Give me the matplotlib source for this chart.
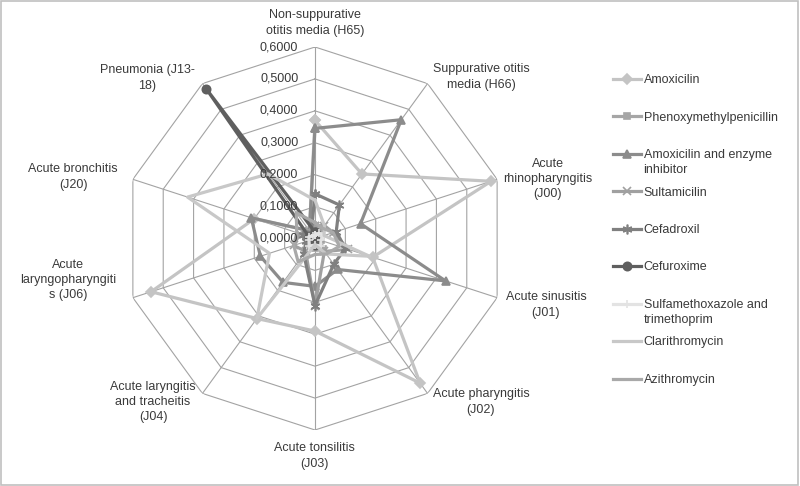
import numpy as np
import matplotlib
matplotlib.use("Agg")
import matplotlib.pyplot as plt

plt.rcParams['font.family'] = ['Liberation Sans', 'DejaVu Sans']

# categories, clockwise from the top
categories = ["Non-suppurative\notitis media (H65)", "Suppurative otitis\nmedia (H66)",
              "Acute\nrhinopharyngitis\n(J00)", "Acute sinusitis\n(J01)",
              "Acute pharyngitis\n(J02)", "Acute tonsilitis\n(J03)",
              "Acute laryngitis\nand tracheitis\n(J04)", "Acute\nlaryngopharyngiti\ns (J06)",
              "Acute bronchitis\n(J20)", "Pneumonia (J13-\n18)"]

amoxicilin = [0.37, 0.25, 0.58, 0.19, 0.56, 0.29, 0.31, 0.54, 0.20, 0.03]
phenoxymethylpenicillin = [0.02, 0.03, 0.02, 0.02, 0.04, 0.03, 0.02, 0.02, 0.01, 0.01]
amox_inhibitor = [0.345, 0.46, 0.15, 0.43, 0.12, 0.15, 0.17, 0.18, 0.21, 0.03]
sultamicilin = [0.04, 0.05, 0.06, 0.11, 0.05, 0.21, 0.05, 0.07, 0.05, 0.03]
cefadroxil = [0.14, 0.13, 0.07, 0.10, 0.10, 0.21, 0.06, 0.03, 0.04, 0.02]
cefuroxime = [0.02, 0.01, 0.01, 0.01, 0.01, 0.02, 0.01, 0.01, 0.02, 0.58]
sulfa_trimeth = [0.01, 0.02, 0.03, 0.02, 0.03, 0.02, 0.03, 0.02, 0.02, 0.01]
clarithromycin = [0.12, 0.05, 0.03, 0.18, 0.06, 0.02, 0.31, 0.15, 0.42, 0.25]
azithromycin = [0.05, 0.04, 0.06, 0.08, 0.06, 0.05, 0.09, 0.07, 0.06, 0.10]

ticks = [0.0, 0.1, 0.2, 0.3, 0.4, 0.5, 0.6]

# legend names (second line of long names is added under the entry)
series = [
    ("Amoxicilin", "", amoxicilin, "#c4c4c4", "D", 5),
    ("Phenoxymethylpenicillin", "", phenoxymethylpenicillin, "#a6a6a6", "s", 5),
    ("Amoxicilin and enzyme", "inhibitor", amox_inhibitor, "#8c8c8c", "^", 6),
    ("Sultamicilin", "", sultamicilin, "#a0a0a0", "x", 6),
    ("Cefadroxil", "", cefadroxil, "#808080", (6, 2, 0), 7),
    ("Cefuroxime", "", cefuroxime, "#5f5f5f", "o", 6),
    ("Sulfamethoxazole and", "trimethoprim", sulfa_trimeth, "#e3e3e3", "+", 6),
    ("Clarithromycin", "", clarithromycin, "#c8c8c8", None, 0),
    ("Azithromycin", "", azithromycin, "#a9a9a9", None, 0),
]

W, H = 800, 486
fig = plt.figure(figsize=(W / 100, H / 100), dpi=100)
cx, cy, R = 315, 238.5, 191.5
ax = fig.add_axes([(cx - R) / W, (H - cy - R) / H, 2 * R / W, 2 * R / H], projection='polar')
ax.set_theta_zero_location('N')
ax.set_theta_direction(-1)
ax.set_ylim(0, 0.6)
ax.axis('off')

n = len(categories)
angles = np.arange(n) * 2 * np.pi / n
closed = np.append(angles, angles[0])

grid_col = "#a3a3a3"
for r in ticks[1:]:
    ax.plot(closed, [r] * (n + 1), color=grid_col, lw=0.8, zorder=1)
for a in angles:
    ax.plot([a, a], [0, 0.6], color=grid_col, lw=0.8, zorder=1)

txt_col = "#3a3a3a"
for r in ticks:
    ax.annotate(f"{r:.4f}".replace(".", ","), xy=(0, r), xytext=(-12, 0),
                textcoords='offset points', ha='right', va='center',
                fontsize=9, color=txt_col, zorder=5)

for name, _, vals, col, mk, ms in series:
    ax.plot(closed, vals + vals[:1], color=col, lw=2.3, marker=mk, markersize=ms,
            markeredgecolor=col, markerfacecolor=col, mew=1.2, label=name,
            clip_on=False, zorder=3)

# category labels (pixel centres)
label_pos = [(315, 23), (481, 77), (548, 179), (546, 305), (481, 402),
             (314, 456), (153, 402), (68, 280), (73, 177), (147, 78)]
for txt, (x, y) in zip(categories, label_pos):
    fig.text(x / W, 1 - y / H, txt, ha='center', va='center', fontsize=9,
             color=txt_col, multialignment='center', linespacing=1.38)

leg = ax.legend(loc='upper left', bbox_to_anchor=(613 / W, 1 - 74 / H),
                bbox_transform=fig.transFigure, frameon=False, fontsize=9,
                handlelength=2.2, handletextpad=0.25, labelspacing=2.04,
                borderpad=0, borderaxespad=0)
for t, s in zip(leg.get_texts(), series):
    t.set_color(txt_col)
    if s[1]:
        # drawn after the legend so the entry's position is known
        ax.annotate(s[1], xy=(0, 0), xycoords=t, xytext=(0, -2.5),
                    textcoords='offset points', ha='left', va='top',
                    fontsize=9, color=txt_col, zorder=10)

fig.add_artist(plt.Rectangle((0.001, 0.002), 0.997, 0.995, transform=fig.transFigure,
                             fill=False, ec="#c0c0c0", lw=1.2))

fig.savefig("out.png", dpi=100, facecolor="white")
